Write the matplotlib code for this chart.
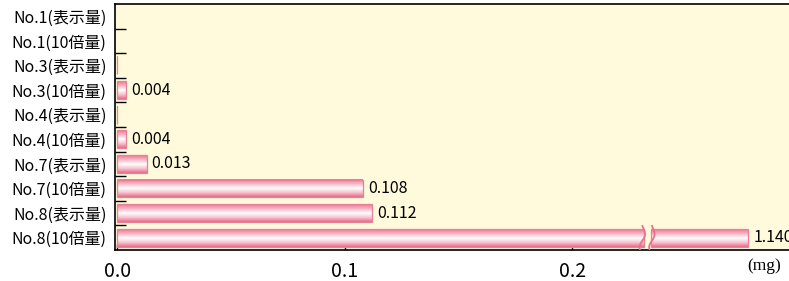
import numpy as np
import matplotlib.pyplot as plt
from matplotlib.colors import LinearSegmentedColormap
from matplotlib.patches import Rectangle

plt.rcParams['font.family'] = ['Noto Sans CJK JP', 'DejaVu Sans']

# dati
categorie = ['No.1(表示量)', 'No.1(10倍量)', 'No.3(表示量)', 'No.3(10倍量)',
             'No.4(表示量)', 'No.4(10倍量)', 'No.7(表示量)', 'No.7(10倍量)',
             'No.8(表示量)', 'No.8(10倍量)']
valori = [0.0, 0.0, 0.0001, 0.004, 0.0001, 0.004, 0.013, 0.108, 0.112, 1.140]
etichette = ['', '', '', '0.004', '', '0.004', '0.013', '0.108', '0.112', '1.140']
x_ticks = [0.0, 0.1, 0.2]

# asse spezzato per il valore fuori scala
fine_visibile = 0.2774
taglio = 0.2315
gap = 0.0030

bg = '#FEFADB'
bordo = '#E9809A'
cmap = LinearSegmentedColormap.from_list(
    'rosa', ['#EC7896', '#F7B4C4', '#FFFFFF', '#F9C3D0', '#E56C8B'])
grad = np.linspace(0, 1, 64).reshape(-1, 1)

fig = plt.figure(figsize=(7.89, 2.81), dpi=100)
ax = fig.add_axes([0.1458, 0.110, 0.8542, 0.8758])
ax.set_facecolor(bg)

h = 0.72
xmax = 0.2952
for i, (v, lab) in enumerate(zip(valori, etichette)):
    if v <= 0:
        continue
    y0, y1 = i - h / 2, i + h / 2
    if v > xmax:
        pezzi = [(0, taglio), (taglio + gap, fine_visibile)]
        fine = fine_visibile
    else:
        pezzi = [(0, v)]
        fine = v
    for a, b in pezzi:
        ax.imshow(grad, extent=[a, b, y1, y0], aspect='auto', cmap=cmap,
                  zorder=2, interpolation='bilinear')
        ax.add_patch(Rectangle((a, y0), b - a, h, fill=False, ec=bordo,
                               lw=0.9, zorder=3))
    if v > xmax:
        # segni di interruzione
        yy = np.linspace(y0 - 0.12, y1 + 0.12, 20)
        onda = 0.0009 * np.sin((yy - y0) / (h + 0.24) * np.pi * 2)
        for xb in (taglio - 0.0006, taglio + gap + 0.0006):
            ax.plot(xb + onda - 0.0012 * (yy - i), yy, color='#E8708E',
                    lw=1.3, zorder=4)
    if lab:
        ax.text(fine + 0.0022, i, lab, va='center', ha='left', fontsize=11.5,
                zorder=5, clip_on=False)

ax.set_xlim(-0.0009, xmax)
ax.set_ylim(len(categorie) - 0.5, -0.5)

ax.set_yticks(range(len(categorie)))
ax.set_yticklabels(categorie, fontsize=11.5)
ax.tick_params(axis='y', which='major', length=0, pad=6)
ax.set_yticks(np.arange(0.5, len(categorie) - 0.5, 1), minor=True)
ax.tick_params(axis='y', which='minor', direction='in', length=8, width=1)

ax.set_xticks(x_ticks)
ax.set_xticklabels(['%.1f' % t for t in x_ticks], fontsize=14)
ax.tick_params(axis='x', direction='in', length=4, width=1, pad=8)

for s in ('left', 'bottom', 'top'):
    ax.spines[s].set_linewidth(1.2)
ax.spines['right'].set_visible(False)

fig.text(0.9475, 0.025, '(mg)', fontsize=12.5, family='Liberation Serif',
         ha='left', va='bottom')

fig.savefig('out.png', dpi=100, facecolor='white')
